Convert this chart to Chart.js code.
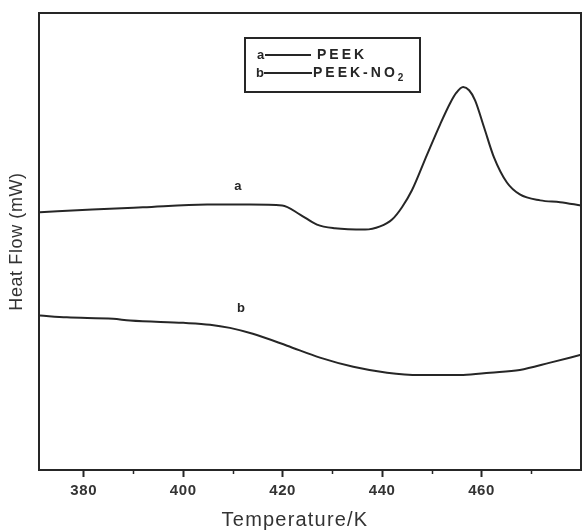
<!DOCTYPE html>
<html>
<head>
<meta charset="utf-8">
<script src="https://cdn.jsdelivr.net/npm/chart.js@4/dist/chart.umd.min.js"></script>
<style>
  html, body { margin: 0; padding: 0; background: #fff; }
  #wrap { width: 583px; height: 532px; position: relative; }
</style>
</head>
<body>
<div id="wrap"><canvas id="c" width="583" height="532"></canvas></div>
<script>
// ---- Data ----
const seriesNames = ["PEEK", "PEEK-NO"];
const seriesLetters = ["a", "b"];
const xTitle = "Temperature/K";
const yTitle = "Heat Flow (mW)";
const tempA = [371.2, 381.7, 391.9, 404.8, 413.4, 419.9, 423.5, 426.9, 430.5, 436.6, 439.6, 442.0, 444.0, 446.0, 449.0, 451.7, 453.7, 454.9, 456.3, 457.5, 458.7, 460.5, 462.5, 465.1, 467.7, 471.8, 475.8, 480.0];
const flowA = [56.4, 57.0, 57.5, 58.1, 58.1, 57.9, 55.9, 53.7, 52.9, 52.6, 53.3, 54.8, 57.5, 61.2, 68.9, 75.7, 80.3, 82.5, 83.8, 83.1, 80.9, 75.0, 68.4, 62.9, 60.3, 59.0, 58.6, 57.9];
const tempB = [371.2, 376.6, 385.9, 389.3, 400.0, 405.4, 409.4, 414.0, 420.9, 427.5, 434.2, 441.0, 447.6, 456.3, 461.7, 467.7, 473.8, 480.0];
const flowB = [33.8, 33.4, 33.1, 32.7, 32.2, 31.8, 31.1, 29.8, 27.2, 24.6, 22.6, 21.3, 20.8, 20.8, 21.3, 21.9, 23.5, 25.2];
const xTicks = [380, 400, 420, 440, 460];
const xMinorTicks = [390, 410, 430, 450, 470];
const labelPosA = [411.0, 62.1];
const labelPosB = [411.6, 35.3];

const ink = '#262626';
const FONT = '"Liberation Sans", Arial, sans-serif';
const zip = (xs, ys) => xs.map((x, i) => ({ x, y: ys[i] }));

const framePlugin = {
  id: 'frame',
  beforeDraw(chart) { chart.ctx.letterSpacing = '0.6px'; },
  beforeDatasetsDraw(chart) { chart.ctx.letterSpacing = '0px'; },
  afterDraw(chart) {
    const { ctx, chartArea: a, scales: { x, y } } = chart;
    ctx.save();
    ctx.strokeStyle = ink;
    ctx.lineWidth = 2;
    ctx.strokeRect(a.left, a.top, a.right - a.left, a.bottom - a.top);
    // minor ticks
    ctx.lineWidth = 1.5;
    xMinorTicks.forEach(v => {
      const px = Math.round(x.getPixelForValue(v)) + 0.5;
      ctx.beginPath(); ctx.moveTo(px, a.bottom); ctx.lineTo(px, a.bottom + 4); ctx.stroke();
    });
    // x axis title
    ctx.fillStyle = '#333';
    ctx.font = '20px ' + FONT;
    ctx.letterSpacing = '1.2px';
    ctx.textAlign = 'center';
    ctx.textBaseline = 'middle';
    ctx.fillText(xTitle, 295, 520);
    ctx.letterSpacing = '0px';
    // curve labels
    ctx.fillStyle = ink;
    ctx.font = 'bold 13px ' + FONT;
    ctx.fillText(seriesLetters[0], x.getPixelForValue(labelPosA[0]), y.getPixelForValue(labelPosA[1]));
    ctx.fillText(seriesLetters[1], x.getPixelForValue(labelPosB[0]), y.getPixelForValue(labelPosB[1]));
    // legend box
    const bx = 245, by = 38, bw = 175, bh = 54;
    ctx.lineWidth = 2;
    ctx.strokeRect(bx, by, bw, bh);
    ctx.textAlign = 'left';
    ctx.font = 'bold 13px ' + FONT;
    const rows = [by + 17, by + 35];
    // row a
    ctx.fillText(seriesLetters[0], bx + 12, rows[0]);
    ctx.beginPath(); ctx.moveTo(bx + 20, rows[0]); ctx.lineTo(bx + 66, rows[0]); ctx.stroke();
    ctx.font = 'bold 14px ' + FONT;
    ctx.letterSpacing = '3px';
    ctx.fillText(seriesNames[0], bx + 72, rows[0]);
    // row b
    ctx.letterSpacing = '0px';
    ctx.font = 'bold 13px ' + FONT;
    ctx.fillText(seriesLetters[1], bx + 11, rows[1]);
    ctx.beginPath(); ctx.moveTo(bx + 19, rows[1]); ctx.lineTo(bx + 67, rows[1]); ctx.stroke();
    ctx.font = 'bold 14px ' + FONT;
    ctx.letterSpacing = '3px';
    ctx.fillText(seriesNames[1], bx + 68, rows[1]);
    const w = ctx.measureText(seriesNames[1]).width;
    ctx.font = 'bold 10px ' + FONT;
    ctx.fillText('2', bx + 68 + w, rows[1] + 5);
    ctx.letterSpacing = '0px';
    ctx.restore();
  }
};

new Chart(document.getElementById('c'), {
  type: 'line',
  data: {
    datasets: [
      { label: seriesNames[0], data: zip(tempA, flowA), borderColor: ink, borderWidth: 2, pointRadius: 0, cubicInterpolationMode: 'monotone', fill: false },
      { label: seriesNames[1], data: zip(tempB, flowB), borderColor: ink, borderWidth: 2, pointRadius: 0, cubicInterpolationMode: 'monotone', fill: false }
    ]
  },
  options: {
    responsive: false,
    animation: false,
    devicePixelRatio: 1,
    layout: { padding: { top: 13, right: 2, left: 0, bottom: 0 } },
    plugins: { legend: { display: false }, tooltip: { enabled: false } },
    scales: {
      x: {
        type: 'linear',
        min: 371,
        max: 480,
        afterBuildTicks: s => { s.ticks = xTicks.map(v => ({ value: v })); },
        afterFit: s => { s.height = 62; },
        ticks: { includeBounds: false, color: '#333', padding: 5, font: { family: FONT, size: 15, weight: 'bold' }, maxRotation: 0 },
        grid: { display: true, drawOnChartArea: false, drawTicks: true, tickLength: 7, tickColor: ink, tickWidth: 2 },
        border: { display: true, color: ink, width: 2 },
        title: { display: false }
      },
      y: {
        type: 'linear',
        min: 0,
        max: 100,
        afterFit: s => { s.width = 39; },
        ticks: { display: false },
        grid: { display: false, drawTicks: false },
        border: { display: true, color: ink, width: 2 },
        title: { display: true, text: yTitle, color: '#333', padding: { top: 6, bottom: 0 }, font: { family: FONT, size: 18 } }
      }
    }
  },
  plugins: [framePlugin]
});
</script>
</body>
</html>
